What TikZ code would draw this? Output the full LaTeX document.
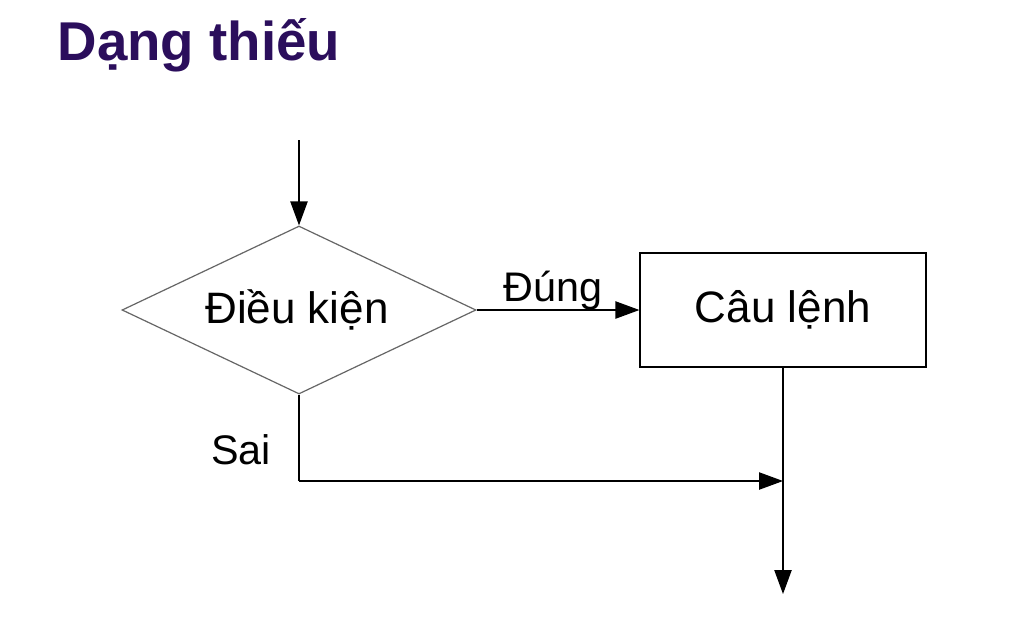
\documentclass[tikz,border=0pt]{standalone}
\usepackage{fontspec}
\setmainfont{Liberation Sans}
\usetikzlibrary{shapes.geometric,arrows.meta}
\definecolor{titlec}{HTML}{2B0E5C}
\begin{document}
\begin{tikzpicture}[x=0.75pt,y=-0.75pt,
  line/.style={draw=black,line width=0.9pt},
  arr/.style={line,-{Triangle[length=18pt,width=13pt]}},
  lbl/.style={font=\fontsize{31}{34}\selectfont}]
\useasboundingbox[fill=white] (0,0) rectangle (1024,619);
\node[font=\fontsize{41}{45}\selectfont\bfseries,text=titlec,anchor=west] (title) at (53,45) {Dạng thiếu};
\node[diamond,line,draw=gray!80!black,aspect=2.1,minimum width=354pt*0.75,minimum height=168pt*0.75,inner sep=0pt] (cond) at (299,310) {};
\node[font=\fontsize{33}{36}\selectfont] (condt) at (297,310) {Điều kiện};
\node[draw=black,line width=0.9pt,minimum width=286*0.75pt,minimum height=114*0.75pt,font=\fontsize{33}{36}\selectfont] (stmt) at (783,310) {Câu lệnh};
\coordinate (start) at (299,140);
\coordinate (corner) at (299,481);
\coordinate (join) at (783,481);
\coordinate (end) at (783,594);
\draw[arr] (start) -- (cond.north);
\draw[arr] (cond.east) -- node[lbl,above,pos=0.47,yshift=-4pt] {Đúng} (stmt.west);
\draw[line] (cond.south) -- (corner);
\draw[arr] (corner) -- (join);
\draw[arr] (stmt.south) -- (end);
\node[lbl] (sai) at (241,450) {Sai};
\end{tikzpicture}
\end{document}
